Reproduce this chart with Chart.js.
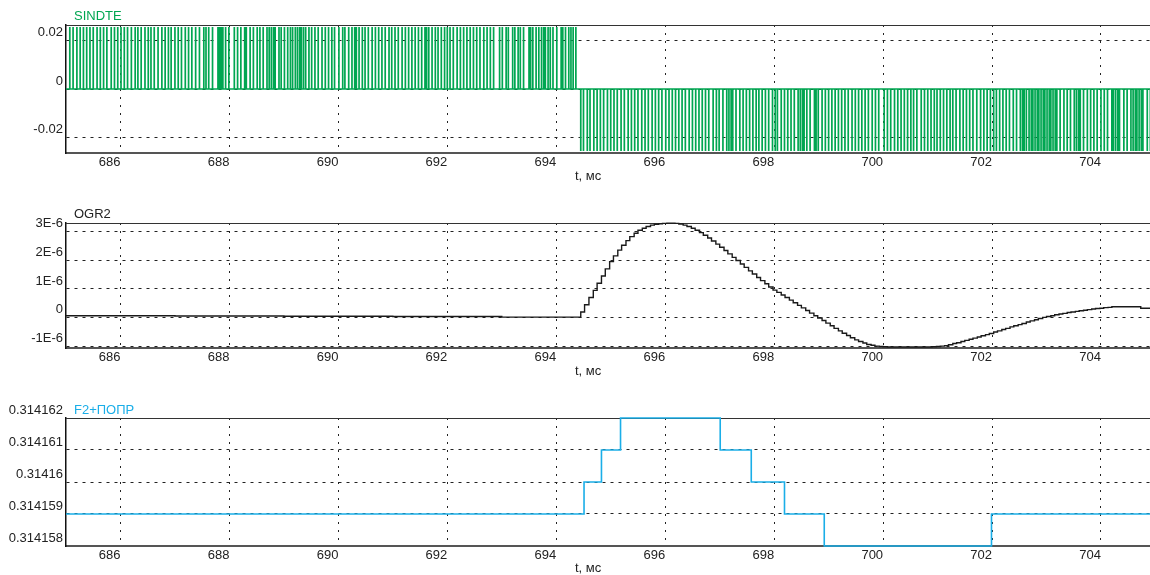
<!DOCTYPE html>
<html>
<head>
<meta charset="utf-8">
<script src="https://cdn.jsdelivr.net/npm/chart.js@4.4.0/dist/chart.umd.min.js"></script>
<style>
  html, body { margin: 0; padding: 0; background: #fff; overflow: hidden; }
  #wrap { position: relative; width: 1150px; height: 575px; }
  canvas { position: absolute; left: 0; display: block; }
</style>
</head>
<body>
<div id="wrap">
  <canvas id="c1" width="1150" height="190" style="top:0px"></canvas>
  <canvas id="c2" width="1150" height="195" style="top:195px"></canvas>
  <canvas id="c3" width="1150" height="185" style="top:390px"></canvas>
</div>
<script>
// ---- общие данные по оси времени ----
const timeTicks = [686, 688, 690, 692, 694, 696, 698, 700, 702, 704];
const timeMin = 685;
const timeMax = 704.9;

// ---- SINDTE: моменты импульсов (мс) ----
const sindteUpTimes = [
  685.07, 685.13, 685.20, 685.26, 685.32, 685.38, 685.44, 685.50, 685.57, 685.63, 685.69, 685.75, 685.83, 685.89, 685.95,
  686.01, 686.07, 686.13, 686.20, 686.27, 686.32, 686.38, 686.45, 686.51, 686.56, 686.62, 686.69, 686.76, 686.82, 686.88, 686.93,
  687.00, 687.06, 687.12, 687.19, 687.25, 687.31, 687.38, 687.45, 687.53, 687.57, 687.62, 687.69, 687.79, 687.82, 687.85, 687.88, 687.93, 687.99,
  688.09, 688.15, 688.21, 688.28, 688.31, 688.38, 688.44, 688.51, 688.56, 688.62, 688.69, 688.73, 688.77, 688.81, 688.84, 688.91, 688.95,
  689.01, 689.07, 689.12, 689.16, 689.21, 689.25, 689.29, 689.32, 689.36, 689.40, 689.46, 689.51, 689.57, 689.63, 689.70, 689.76, 689.82, 689.88, 689.93,
  690.01, 690.08, 690.12, 690.19, 690.25, 690.30, 690.33, 690.38, 690.44, 690.49, 690.55, 690.62, 690.68, 690.74, 690.80, 690.86, 690.93, 690.98,
  691.04, 691.10, 691.17, 691.23, 691.29, 691.35, 691.41, 691.47, 691.53, 691.59, 691.62, 691.66, 691.72, 691.78, 691.83, 691.89, 691.95,
  692.00, 692.05, 692.11, 692.18, 692.24, 692.30, 692.36, 692.42, 692.48, 692.54, 692.60, 692.67, 692.73, 692.79, 692.85, 692.96,
  693.01, 693.08, 693.12, 693.20, 693.24, 693.30, 693.34, 693.40, 693.50, 693.53, 693.57, 693.63, 693.68, 693.73, 693.77, 693.80, 693.85, 693.89, 693.94,
  694.01, 694.09, 694.12, 694.17, 694.23, 694.27, 694.31, 694.36
];
const sindteDownTimes = [
  694.45, 694.50, 694.57, 694.62, 694.69, 694.75, 694.81, 694.87, 694.94,
  695.00, 695.06, 695.12, 695.19, 695.25, 695.32, 695.38, 695.44, 695.50, 695.57, 695.63, 695.69, 695.76, 695.82, 695.88, 695.94,
  696.01, 696.07, 696.13, 696.19, 696.25, 696.31, 696.37, 696.44, 696.50, 696.56, 696.62, 696.68, 696.74, 696.80, 696.88, 696.94, 696.99,
  697.06, 697.13, 697.17, 697.21, 697.24, 697.30, 697.37, 697.43, 697.49, 697.55, 697.61, 697.67, 697.72, 697.78, 697.84, 697.90, 697.97,
  698.02, 698.06, 698.13, 698.19, 698.25, 698.31, 698.37, 698.44, 698.48, 698.52, 698.55, 698.60, 698.66, 698.74, 698.77, 698.81, 698.88, 698.94,
  699.00, 699.06, 699.12, 699.18, 699.24, 699.30, 699.36, 699.43, 699.49, 699.55, 699.61, 699.67, 699.73, 699.80, 699.86, 699.92,
  700.02, 700.08, 700.14, 700.21, 700.27, 700.33, 700.39, 700.45, 700.51, 700.56, 700.62, 700.70, 700.76, 700.82, 700.88, 700.94, 700.99,
  701.05, 701.11, 701.17, 701.23, 701.28, 701.34, 701.41, 701.47, 701.53, 701.59, 701.65, 701.72, 701.79, 701.85, 701.91, 701.97,
  702.03, 702.08, 702.14, 702.20, 702.26, 702.32, 702.39, 702.45, 702.52, 702.56, 702.59, 702.63, 702.68, 702.72, 702.75, 702.79, 702.83, 702.86, 702.90, 702.94, 702.97,
  703.01, 703.05, 703.08, 703.12, 703.16, 703.19, 703.25, 703.32, 703.38, 703.44, 703.51, 703.55, 703.59, 703.62, 703.68, 703.75, 703.81, 703.87, 703.93,
  704.00, 704.06, 704.12, 704.20, 704.23, 704.27, 704.31, 704.34, 704.42, 704.48, 704.55, 704.59, 704.63, 704.66, 704.70, 704.74, 704.77, 704.85, 704.91
];
const sindteHigh = 0.0256;
const sindteLow = -0.0256;
const sindteTicks = [-0.02, 0, 0.02];
const sindteTickLabels = ['-0.02', '0', '0.02'];

// ---- OGR2: ступенчатая кривая (значения в единицах 1E-6) ----
const ogrTimes = [
  685.00, 687.00, 689.00, 691.00, 693.00,
  694.45, 694.52, 694.60, 694.68, 694.75, 694.83, 694.90, 694.98, 695.05, 695.13, 695.20, 695.28, 695.35, 695.43,
  695.50, 695.58, 695.65, 695.73, 695.80, 695.88, 695.95, 696.03, 696.10, 696.18, 696.25, 696.33, 696.40, 696.48,
  696.55, 696.63, 696.70, 696.78, 696.85, 696.93, 697.00, 697.08, 697.15, 697.23, 697.30, 697.38, 697.45, 697.53,
  697.60, 697.68, 697.75, 697.83, 697.90, 697.98, 698.05, 698.13, 698.20, 698.28, 698.35, 698.43, 698.50, 698.58,
  698.65, 698.73, 698.80, 698.88, 698.95, 699.03, 699.10, 699.18, 699.25, 699.33, 699.40, 699.48, 699.55, 699.63,
  699.70, 699.78, 699.85, 699.93, 700.00, 700.08, 700.90, 700.98, 701.05, 701.13, 701.20, 701.28, 701.35, 701.43,
  701.50, 701.58, 701.65, 701.73, 701.80, 701.88, 701.95, 702.03, 702.10, 702.18, 702.25, 702.33, 702.40, 702.48,
  702.55, 702.63, 702.70, 702.78, 702.85, 702.93, 703.00, 703.08, 703.15, 703.23, 703.30, 703.38, 703.45, 703.53,
  703.60, 703.68, 703.75, 703.83, 703.90, 703.98, 704.05, 704.13, 704.20, 704.73, 704.90
];
const ogrValues = [
  0.07, 0.06, 0.05, 0.04, 0.02,
  0.20, 0.45, 0.70, 0.95, 1.20, 1.45, 1.70, 1.95, 2.15, 2.35, 2.52, 2.68, 2.82, 2.94,
  3.04, 3.11, 3.17, 3.22, 3.25, 3.27, 3.28, 3.29, 3.29, 3.28, 3.26, 3.22, 3.17, 3.11,
  3.04, 2.96, 2.87, 2.77, 2.67, 2.56, 2.45, 2.34, 2.22, 2.10, 1.99, 1.87, 1.75, 1.63,
  1.52, 1.40, 1.29, 1.18, 1.07, 0.96, 0.88, 0.79, 0.70, 0.61, 0.52, 0.43, 0.34, 0.25,
  0.16, 0.07, -0.01, -0.10, -0.19, -0.28, -0.37, -0.46, -0.54, -0.62, -0.70, -0.77, -0.83, -0.88,
  -0.93, -0.96, -0.99, -1.00, -1.01, -1.02, -1.01, -1.00, -0.99, -0.97, -0.94, -0.90, -0.87, -0.83,
  -0.79, -0.75, -0.71, -0.67, -0.63, -0.59, -0.55, -0.50, -0.46, -0.41, -0.37, -0.32, -0.28, -0.24,
  -0.20, -0.15, -0.11, -0.07, -0.03, 0.01, 0.04, 0.07, 0.10, 0.13, 0.15, 0.18, 0.20, 0.22,
  0.24, 0.26, 0.28, 0.30, 0.32, 0.33, 0.35, 0.36, 0.38, 0.33, 0.33
];
const ogrTicks = [-1e-6, 0, 1e-6, 2e-6, 3e-6];
const ogrTickLabels = ['-1E-6', '0', '1E-6', '2E-6', '3E-6'];

// ---- F2+ПОПР: ступени ----
const f2Times  = [685.00, 694.51, 694.83, 695.18, 697.01, 697.58, 698.19, 698.92, 701.99, 704.90];
const f2Values = [0.314159, 0.31416, 0.314161, 0.314162, 0.314161, 0.31416, 0.314159, 0.314158, 0.314159, 0.314159];
const f2Ticks = [0.314158, 0.314159, 0.31416, 0.314161, 0.314162];
const f2TickLabels = ['0.314158', '0.314159', '0.31416', '0.314161', '0.314162'];

const FONT = '"Liberation Sans", Arial, sans-serif';
const TEXT = '#222';

// -----------------------------------------------
// рамка сверху, имя сигнала и подпись оси
// -----------------------------------------------
const panelText = {
  id: 'panelText',
  beforeDatasetsDraw: function(chart) {
    const a = chart.chartArea;
    const ctx = chart.ctx;
    ctx.save();
    ctx.strokeStyle = '#333';
    ctx.lineWidth = 1;
    ctx.beginPath();
    ctx.moveTo(a.left, a.top + 0.5);
    ctx.lineTo(a.right, a.top + 0.5);
    ctx.stroke();
    ctx.restore();
  },
  afterDraw: function(chart, args, opts) {
    const a = chart.chartArea;
    const ctx = chart.ctx;
    ctx.save();
    ctx.font = '13px ' + FONT;
    ctx.textBaseline = 'middle';
    ctx.textAlign = 'left';
    ctx.fillStyle = opts.color;
    ctx.fillText(opts.name, 74, a.top + opts.nameDy);
    ctx.fillStyle = TEXT;
    ctx.fillText('t, мс', 575, a.bottom + opts.axisDy);
    ctx.restore();
  }
};

function makeOptions(cfg) {
  return {
    responsive: false,
    animation: false,
    events: [],
    layout: { padding: { top: cfg.padTop, left: 0, right: 0, bottom: 0 } },
    plugins: {
      legend: { display: false },
      tooltip: { enabled: false },
      panelText: { name: cfg.name, color: cfg.color, nameDy: cfg.nameDy, axisDy: cfg.axisDy }
    },
    scales: {
      x: {
        type: 'linear',
        min: timeMin,
        max: timeMax,
        afterBuildTicks: function(scale) { scale.ticks = timeTicks.map(function(v) { return { value: v }; }); },
        afterFit: function(scale) { scale.height = cfg.axisHeight; },
        ticks: { align: 'end', padding: 2, color: TEXT, font: { family: FONT, size: 13 }, maxRotation: 0 },
        grid: { color: '#222', lineWidth: 1, drawTicks: false },
        border: { display: true, color: '#555', width: 2, dash: [2, 6] }
      },
      y: {
        type: 'linear',
        min: cfg.yMin,
        max: cfg.yMax,
        afterBuildTicks: function(scale) { scale.ticks = cfg.yTicks.map(function(v) { return { value: v }; }); },
        afterFit: function(scale) { scale.width = 66; },
        ticks: {
          padding: 3,
          labelOffset: -8,
          color: TEXT,
          font: { family: FONT, size: 13 },
          callback: function(value, index) { return cfg.yLabels[index]; }
        },
        grid: { color: '#222', lineWidth: 1, drawTicks: false },
        border: { display: true, color: '#111', width: 1.5, dash: [3, 5] }
      }
    }
  };
}

// ---- панель 1: SINDTE ----
function pulsePoints() {
  const pts = [{ x: timeMin, y: 0 }];
  sindteUpTimes.forEach(function(t) { pts.push({ x: t, y: 0 }, { x: t, y: sindteHigh }, { x: t, y: 0 }); });
  sindteDownTimes.forEach(function(t) { pts.push({ x: t, y: 0 }, { x: t, y: sindteLow }, { x: t, y: 0 }); });
  pts.push({ x: timeMax, y: 0 });
  return pts;
}

new Chart(document.getElementById('c1'), {
  type: 'line',
  data: {
    datasets: [{
      data: pulsePoints(),
      borderColor: '#00a651',
      borderWidth: 1.7,
      borderJoinStyle: 'bevel',
      pointRadius: 0,
      tension: 0,
      clip: 2
    }]
  },
  options: makeOptions({
    padTop: 25, axisHeight: 37, name: 'SINDTE', color: '#00a651', nameDy: -9, axisDy: 23,
    yMin: -0.0264, yMax: 0.0264, yTicks: sindteTicks, yLabels: sindteTickLabels
  }),
  plugins: [panelText]
});

// ---- панель 2: OGR2 ----
new Chart(document.getElementById('c2'), {
  type: 'line',
  data: {
    datasets: [{
      data: ogrTimes.map(function(t, i) { return { x: t, y: ogrValues[i] * 1e-6 }; }),
      borderColor: '#1a1a1a',
      borderWidth: 1.4,
      stepped: true,
      pointRadius: 0,
      clip: 2
    }]
  },
  options: makeOptions({
    padTop: 28, axisHeight: 42, name: 'OGR2', color: '#222', nameDy: -9, axisDy: 23.5,
    yMin: -1.054e-6, yMax: 3.294e-6, yTicks: ogrTicks, yLabels: ogrTickLabels
  }),
  plugins: [panelText]
});

// ---- панель 3: F2+ПОПР ----
new Chart(document.getElementById('c3'), {
  type: 'line',
  data: {
    datasets: [{
      data: f2Times.map(function(t, i) { return { x: t, y: f2Values[i] }; }),
      borderColor: '#1aaee8',
      borderWidth: 1.6,
      stepped: true,
      pointRadius: 0,
      clip: 2
    }]
  },
  options: makeOptions({
    padTop: 28, axisHeight: 29, name: 'F2+ПОПР', color: '#1aaee8', nameDy: -8, axisDy: 22,
    yMin: 0.314158, yMax: 0.314162, yTicks: f2Ticks, yLabels: f2TickLabels
  }),
  plugins: [panelText]
});
</script>
</body>
</html>
